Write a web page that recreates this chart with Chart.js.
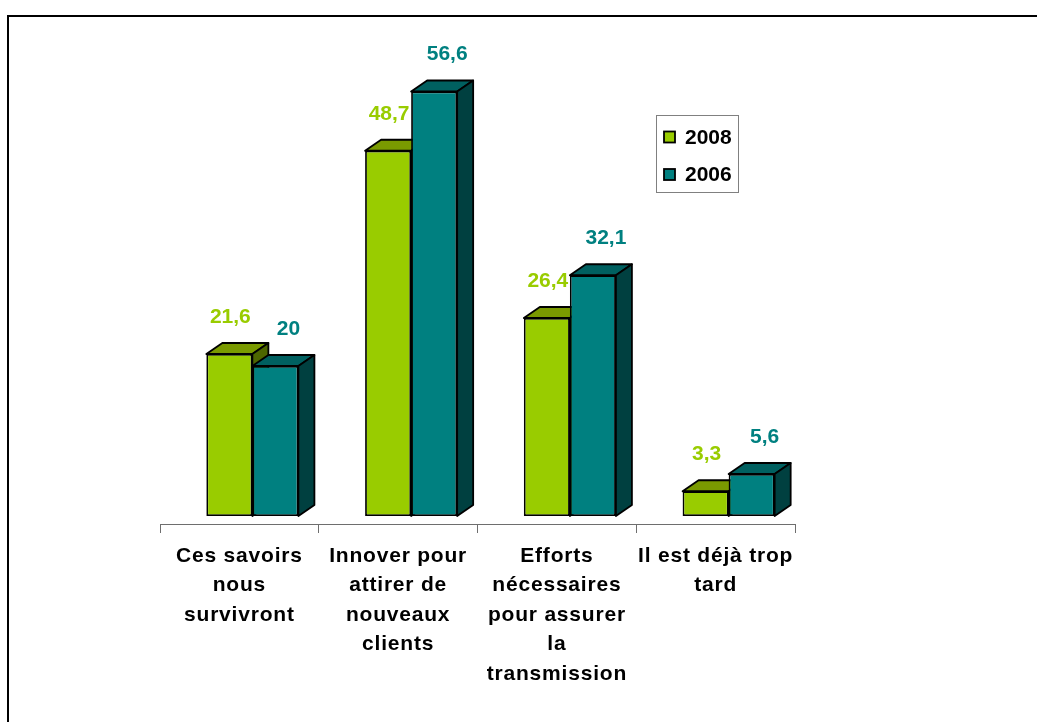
<!DOCTYPE html>
<html>
<head>
<meta charset="utf-8">
<script src="https://cdn.jsdelivr.net/npm/chart.js@4.4.1/dist/chart.umd.min.js"></script>
<style>
  html, body { margin: 0; padding: 0; background: #fff; overflow: hidden; }
  #frame { position: absolute; left: 7px; top: 15px; width: 1100px; height: 800px;
           border-top: 2px solid #000; border-left: 2px solid #000; }
  #wrap { position: absolute; left: 0; top: 0; width: 1037px; height: 722px; }
</style>
</head>
<body>
<div id="frame"></div>
<div id="wrap"><canvas id="barChart"></canvas></div>
<script>
const categories = [
    ['Ces savoirs', 'nous', 'survivront'],
    ['Innover pour', 'attirer de', 'nouveaux', 'clients'],
    ['Efforts', 'nécessaires', 'pour assurer', 'la', 'transmission'],
    ['Il est déjà trop', 'tard']
];
const seriesNames = ['2008', '2006'];
const values2008 = [21.6, 48.7, 26.4, 3.3];
const values2006 = [20, 56.6, 32.1, 5.6];

const frontColors = ['#99CC00', '#008080'];
const topColors = ['#7A9A00', '#006060'];
const sideColors = ['#4D6600', '#004040'];

const FONT = '"Liberation Sans", Arial, sans-serif';
const DEPTH_X = 16, DEPTH_Y = -11;   // 3d depth of the boxes
const SHIFT_X = 13, SHIFT_Y = -8;    // boxes stand back on the floor

// draws the boxes (front + top + side) in series order, plus value labels
const boxes3d = {
    id: 'boxes3d',
    beforeDraw(chart) {
        chart.ctx.letterSpacing = '0.8px';
    },
    beforeDatasetDraw() {
        return false;
    },
    afterDatasetsDraw(chart) {
        const ctx = chart.ctx;
        ctx.save();
        ctx.translate(SHIFT_X, SHIFT_Y);
        const n = chart.data.labels.length;
        for (let i = 0; i < n; i++) {
            chart.data.datasets.forEach((ds, d) => {
                const bar = chart.getDatasetMeta(d).data[i];
                const { x, y, base, width } = bar.getProps(['x', 'y', 'base', 'width']);
                const l = x - width / 2, r = x + width / 2;
                bar.draw(ctx);
                ctx.lineWidth = 1.8;
                ctx.lineJoin = 'round';
                ctx.strokeStyle = '#000';
                // top
                ctx.beginPath();
                ctx.moveTo(l, y);
                ctx.lineTo(l + DEPTH_X, y + DEPTH_Y);
                ctx.lineTo(r + DEPTH_X, y + DEPTH_Y);
                ctx.lineTo(r, y);
                ctx.closePath();
                ctx.fillStyle = topColors[d];
                ctx.fill();
                ctx.stroke();
                // side
                ctx.beginPath();
                ctx.moveTo(r, y);
                ctx.lineTo(r + DEPTH_X, y + DEPTH_Y);
                ctx.lineTo(r + DEPTH_X, base + DEPTH_Y);
                ctx.lineTo(r, base);
                ctx.closePath();
                ctx.fillStyle = sideColors[d];
                ctx.fill();
                ctx.stroke();
            });
        }
        // value labels
        ctx.letterSpacing = '0px';
        ctx.font = 'bold 21px ' + FONT;
        ctx.textAlign = 'center';
        ctx.textBaseline = 'middle';
        chart.data.datasets.forEach((ds, d) => {
            chart.getDatasetMeta(d).data.forEach((bar, i) => {
                ctx.fillStyle = frontColors[d];
                const txt = String(ds.data[i]).replace('.', ',');
                ctx.fillText(txt, bar.x + (d === 0 ? 1 : 13), bar.y - 37);
            });
        });
        ctx.restore();
    },
    afterDraw(chart) {
        // legend box
        const ctx = chart.ctx;
        ctx.save();
        ctx.letterSpacing = '0px';
        ctx.strokeStyle = '#808080';
        ctx.lineWidth = 1;
        ctx.fillStyle = '#fff';
        ctx.fillRect(656, 115, 82, 77);
        ctx.strokeRect(656.5, 115.5, 82, 77);
        ctx.font = 'bold 21px ' + FONT;
        ctx.textAlign = 'left';
        ctx.textBaseline = 'middle';
        chart.data.datasets.forEach((ds, d) => {
            const cy = 137 + d * 37.5;
            ctx.fillStyle = frontColors[d];
            ctx.fillRect(664, cy - 5.5, 11, 11);
            ctx.strokeStyle = '#000';
            ctx.lineWidth = 1.8;
            ctx.strokeRect(664, cy - 5.5, 11, 11);
            ctx.fillStyle = '#000';
            ctx.fillText(ds.label, 685, cy + 1);
        });
        ctx.restore();
    }
};

const ctx = document.getElementById('barChart').getContext('2d');
const barChart = new Chart(ctx, {
    type: 'bar',
    data: {
        labels: categories,
        datasets: [
            {
                label: seriesNames[0],
                data: values2008,
                backgroundColor: frontColors[0],
                borderColor: '#000',
                borderWidth: 1.8,
                borderSkipped: false
            },
            {
                label: seriesNames[1],
                data: values2006,
                backgroundColor: frontColors[1],
                borderColor: '#000',
                borderWidth: 1.8,
                borderSkipped: false
            }
        ]
    },
    options: {
        responsive: true,
        maintainAspectRatio: false,
        animation: false,
        categoryPercentage: 0.58,
        barPercentage: 1,
        layout: {
            padding: { left: 160, right: 242, top: 74, bottom: 8 }
        },
        scales: {
            x: {
                grid: {
                    drawOnChartArea: false,
                    tickLength: 9,
                    tickColor: '#6e6e6e',
                    offset: true
                },
                border: { display: true, color: '#6e6e6e', width: 1 },
                ticks: {
                    color: '#000',
                    font: { family: FONT, size: 21, weight: 'bold', lineHeight: 1.41 },
                    padding: 8,
                    maxRotation: 0,
                    autoSkip: false
                },
                afterFit(scale) {
                    scale.height = 190;
                }
            },
            y: {
                display: false,
                min: 0,
                max: 60
            }
        },
        plugins: {
            legend: { display: false },
            tooltip: { enabled: false }
        }
    },
    plugins: [boxes3d]
});
</script>
</body>
</html>
